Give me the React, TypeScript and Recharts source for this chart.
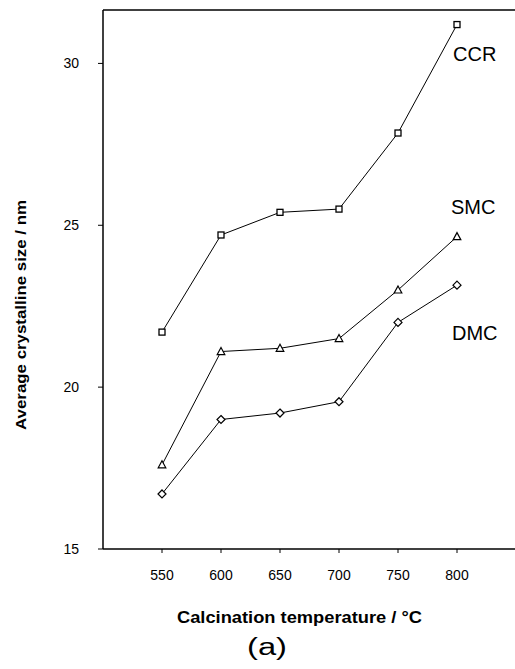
import React from 'react';
import { LineChart, Line, XAxis, YAxis, ReferenceLine } from 'recharts';

const temperatures = [550, 600, 650, 700, 750, 800];
const ccr = [21.7, 24.7, 25.4, 25.5, 27.85, 31.2];
const smc = [17.6, 21.1, 21.2, 21.5, 23.0, 24.65];
const dmc = [16.7, 19.0, 19.2, 19.55, 22.0, 23.15];
const xTicks = [550, 600, 650, 700, 750, 800];
const yTicks = [15, 20, 25, 30];

const data = temperatures.map((t, i) => ({ t, ccr: ccr[i], smc: smc[i], dmc: dmc[i] }));

const FONT = '"Liberation Sans", Arial, sans-serif';

const Square = (props: any) => {
  const { cx, cy } = props;
  if (cx == null || cy == null) return null;
  return <rect x={cx - 3} y={cy - 3} width={6} height={6} fill="#fff" stroke="#000" strokeWidth={1.3} />;
};
const Triangle = (props: any) => {
  const { cx, cy } = props;
  if (cx == null || cy == null) return null;
  return (
    <polygon
      points={`${cx},${cy - 4} ${cx + 3.8},${cy + 3} ${cx - 3.8},${cy + 3}`}
      fill="#fff"
      stroke="#000"
      strokeWidth={1.2}
    />
  );
};
const Diamond = (props: any) => {
  const { cx, cy } = props;
  if (cx == null || cy == null) return null;
  return (
    <polygon
      points={`${cx},${cy - 4} ${cx + 4},${cy} ${cx},${cy + 4} ${cx - 4},${cy}`}
      fill="#fff"
      stroke="#000"
      strokeWidth={1.2}
    />
  );
};

export default function App() {
  return (
    <div
      style={{
        position: 'absolute',
        left: 0,
        top: 0,
        width: 515,
        height: 669,
        overflow: 'hidden',
        background: '#fff',
      }}
    >
      <LineChart width={530} height={669} data={data} margin={{ top: 10, right: 14, bottom: 90, left: 0 }}>
        <XAxis
          dataKey="t"
          type="number"
          domain={[500, 850]}
          ticks={xTicks}
          height={30}
          tickSize={4}
          tickMargin={17}
          axisLine={{ stroke: '#000', strokeWidth: 1.5 }}
          tickLine={{ stroke: '#000' }}
          tick={{ fill: '#000', fontSize: 14, fontFamily: FONT }}
          allowDataOverflow
        />
        <YAxis
          type="number"
          domain={[15, 31.65]}
          ticks={yTicks}
          width={103}
          tickSize={5}
          tickMargin={19}
          axisLine={{ stroke: '#000', strokeWidth: 1.5 }}
          tickLine={{ stroke: '#000' }}
          tick={{ fill: '#000', fontSize: 14, fontFamily: FONT }}
          allowDataOverflow
        />
        <ReferenceLine y={31.65} stroke="#000" strokeWidth={1.5} />
        <Line dataKey="ccr" stroke="#000" strokeWidth={1} dot={<Square />} isAnimationActive={false} />
        <Line dataKey="smc" stroke="#000" strokeWidth={1} dot={<Triangle />} isAnimationActive={false} />
        <Line dataKey="dmc" stroke="#000" strokeWidth={1} dot={<Diamond />} isAnimationActive={false} />
      </LineChart>
      <svg
        width={515}
        height={669}
        style={{ position: 'absolute', left: 0, top: 0, pointerEvents: 'none' }}
      >
        <text x={453} y={61} fontSize={20} fontFamily={FONT} fill="#000">CCR</text>
        <text x={451} y={214} fontSize={20} fontFamily={FONT} fill="#000">SMC</text>
        <text x={452} y={340} fontSize={20} fontFamily={FONT} fill="#000">DMC</text>
        <text
          x={177}
          y={623}
          fontSize={17}
          fontWeight="bold"
          fontFamily={FONT}
          fill="#000"
          textLength={245}
          lengthAdjust="spacingAndGlyphs"
        >
          Calcination temperature / °C
        </text>
        <text
          x={247}
          y={655}
          fontSize={23}
          fontFamily={FONT}
          fill="#000"
          textLength={40}
          lengthAdjust="spacingAndGlyphs"
        >
          (a)
        </text>
        <text
          x={26}
          y={315}
          fontSize={15}
          fontWeight="bold"
          fontFamily={FONT}
          fill="#000"
          textAnchor="middle"
          transform="rotate(-90, 26, 315)"
          textLength={230}
          lengthAdjust="spacingAndGlyphs"
        >
          Average crystalline size / nm
        </text>
      </svg>
    </div>
  );
}
